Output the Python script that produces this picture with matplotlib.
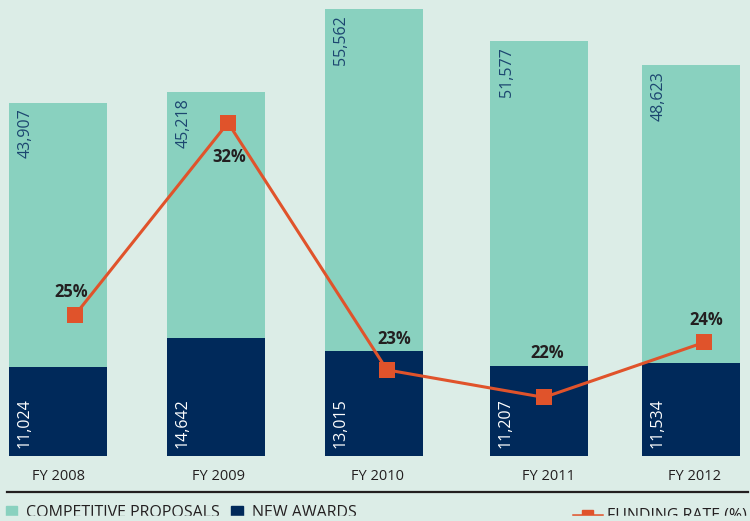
import matplotlib
matplotlib.use("Agg")
import matplotlib.pyplot as plt
from matplotlib.patches import Rectangle
from matplotlib.lines import Line2D

plt.rcParams['font.family'] = ['Open Sans', 'DejaVu Sans']

# ---- data ----
years = ["FY 2008", "FY 2009", "FY 2010", "FY 2011", "FY 2012"]
proposals = [43907, 45218, 55562, 51577, 48623]
awards = [11024, 14642, 13015, 11207, 11534]
funding_rate = [25, 32, 23, 22, 24]

# ---- layout (pixel-like x coordinates on a 0..750 axis) ----
bar_x = [58, 216, 374, 539, 691]
tick_x = [59, 218, 377, 548, 695]
line_x = [75, 228, 387, 544, 704]
bar_w = 98
# label offsets (px) for the rate labels relative to markers
rate_off = [(-4, 23), (1, -34), (7, 31), (3, 44), (2, 22)]

BG = "#dcede7"
TEAL = "#89d1bf"
NAVY = "#00295a"
ORANGE = "#e0532b"
DARK = "#231f20"
LBLUE = "#1c4670"

W, H = 750, 521
fig = plt.figure(figsize=(W / 100, H / 100), dpi=100, facecolor=BG)
base_px = 455.7
ax = fig.add_axes([0, (H - base_px) / H, 1, base_px / H])
ax.set_facecolor(BG)
ax.set_xlim(0, W)
ax.set_ylim(0, 56681)
for s in ax.spines.values():
    s.set_visible(False)
ax.set_xticks([])
ax.set_yticks([])

ax.bar(bar_x, proposals, width=bar_w, color=TEAL, zorder=1)
ax.bar(bar_x, awards, width=bar_w, color=NAVY, zorder=2)

pt = 0.72  # points per pixel
for x, p, a in zip(bar_x, proposals, awards):
    ax.annotate(f"{p:,}", xy=(x - bar_w / 2 + 16.5, p), xytext=(0, -6 * pt),
                textcoords="offset points", rotation=90, ha="center", va="top",
                fontsize=11.5, color=LBLUE, zorder=3)
    ax.annotate(f"{a:,}", xy=(x - bar_w / 2 + 16, 0), xytext=(0, 7.5 * pt),
                textcoords="offset points", rotation=90, ha="center", va="bottom",
                fontsize=11.5, color="white", zorder=3)

ax2 = ax.twinx()
ax2.set_ylim(19.876, 36.471)
ax2.set_xlim(0, W)
ax2.axis("off")
ax2.plot(line_x, funding_rate, color=ORANGE, lw=2.2, marker="s", markersize=11.5,
         markeredgewidth=0, zorder=5)
for x, r, (dx, dy) in zip(line_x, funding_rate, rate_off):
    ax2.annotate(f"{r}%", xy=(x, r), xytext=(dx * pt, dy * pt), textcoords="offset points",
                 ha="center", va="center", fontsize=12, fontweight="bold", color=DARK)

# x labels
for x, lab in zip(tick_x, years):
    fig.text(x / W, 1 - 477 / H, lab, ha="center", va="center", fontsize=10.5, color=DARK)

# separator line
fig.add_artist(Line2D([7 / W, 748 / W], [1 - 491.7 / H] * 2, color=DARK, lw=1.6))

# legend row (cut off at bottom)
def px(xp, yp):
    return xp / W, 1 - yp / H

fig.add_artist(Rectangle(px(6, 518), 11 / W, 12 / H, color=TEAL, transform=fig.transFigure))
fig.text(*px(26, 505.0), "COMPETITIVE PROPOSALS", ha="left", va="top", fontsize=11.5, color=DARK)
fig.add_artist(Rectangle(px(231, 518), 12 / W, 12 / H, color=NAVY, transform=fig.transFigure))
fig.text(*px(252, 505.0), "NEW AWARDS", ha="left", va="top", fontsize=11.5, color=DARK)
fig.add_artist(Line2D([573 / W, 602 / W], [1 - 514.5 / H] * 2, color=ORANGE, lw=1.8,
                      transform=fig.transFigure))
fig.add_artist(Rectangle(px(582, 521), 11 / W, 11 / H, color=ORANGE, transform=fig.transFigure))
fig.text(*px(607, 507.5), "FUNDING RATE (%)", ha="left", va="top", fontsize=11.5, color=DARK)

# the reference is cropped: cover the bottom strip
cover = Rectangle((0, 0), 1, (H - 515.7) / H, color=BG, transform=fig.transFigure, zorder=20)
fig.add_artist(cover)

fig.savefig("out.png", dpi=100, facecolor=BG)
